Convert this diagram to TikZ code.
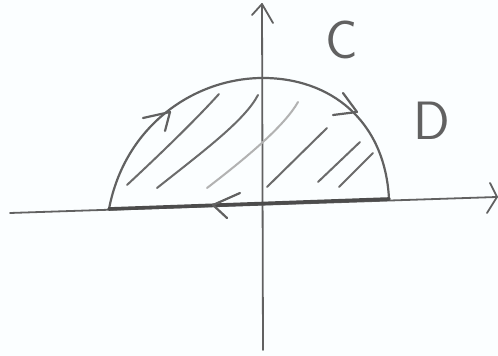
\documentclass[tikz,border=0pt]{standalone}
\usepackage{fontspec}
\setmainfont{Open Sans}
\begin{document}
\begin{tikzpicture}[x=0.5pt,y=-0.5pt,
  pen/.style={draw=black!62,line width=1.1pt,line cap=round,line join=round},
  thick pen/.style={draw=black!70,line width=1.8pt,line cap=round},
  hatch/.style={draw=black!58,line width=1pt,line cap=round},
  light hatch/.style={draw=black!30,line width=1pt,line cap=round},
  lbl/.style={text=black!62,font=\fontsize{27}{27}\selectfont\sffamily\mdseries}]
\fill[white!96!cyan!40!white] (0,0) rectangle (498,356);
\useasboundingbox (0,0) rectangle (498,356);
% axes
\coordinate (xl) at (10,213);
\coordinate (xr) at (497,197);
\coordinate (yb) at (263,350);
\coordinate (yt) at (262,4);
\draw[pen,line width=0.9pt] (xl) -- (xr);
\draw[pen,line width=0.9pt] (yb) -- (yt);
\draw[pen,line width=0.9pt] (252,15) -- (yt) -- (273,23);
\draw[pen,line width=0.9pt] (490,183) -- (xr) -- (487,213);
% region boundary
\coordinate (A) at (109,209);
\coordinate (B) at (389,199);
\draw[pen] (A) .. controls (125,125) and (195,78) .. (263,78)
  .. controls (330,78) and (385,120) .. (B);
\draw[thick pen] (A) -- (B);
% direction arrows
\draw[pen] (143,118) -- (170,112) -- (165,131);
\draw[pen] (343,93) -- (357,112) -- (333,115);
\draw[pen] (240,193) -- (213,205) -- (227,218);
% hatching
\draw[hatch] (127,185) .. controls (170,145) and (200,115) .. (219,94);
\draw[hatch] (157,188) .. controls (205,150) and (245,120) .. (258,95);
\draw[light hatch] (207,188) .. controls (250,155) and (285,125) .. (298,102);
\draw[hatch] (267,187) -- (327,128);
\draw[hatch] (318,182) -- (360,142);
\draw[hatch] (339,187) -- (373,153);
% labels
\node[lbl] (C) at (342,40) {C};
\node[lbl] (D) at (432,121) {D};
\end{tikzpicture}
\end{document}
